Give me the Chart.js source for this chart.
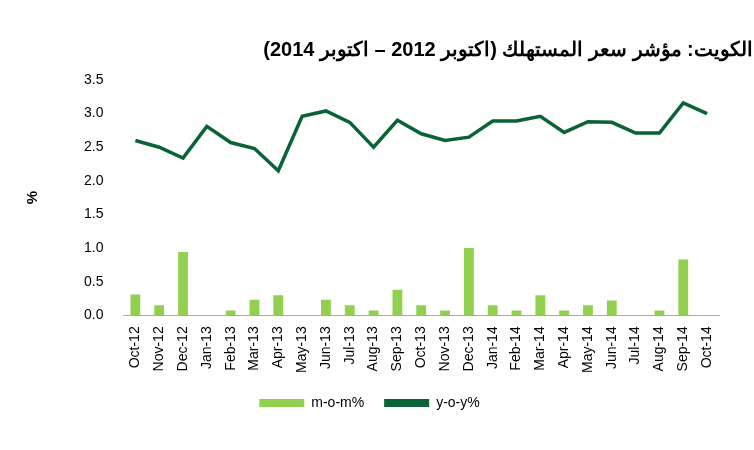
<!DOCTYPE html><html><head><meta charset="utf-8"><script src="https://cdn.jsdelivr.net/npm/chart.js@4"></script>
<style>body{margin:0;background:#fff}#w{width:754px;height:450px}</style></head><body><div id="w"><canvas id="c"></canvas></div>
<script>
const categories=["Oct-12","Nov-12","Dec-12","Jan-13","Feb-13","Mar-13","Apr-13","May-13","Jun-13","Jul-13","Aug-13","Sep-13","Oct-13","Nov-13","Dec-13","Jan-14","Feb-14","Mar-14","Apr-14","May-14","Jun-14","Jul-14","Aug-14","Sep-14","Oct-14"];
const mom=[0.31,0.15,0.94,-0.01,0.07,0.23,0.30,0,0.23,0.15,0.07,0.38,0.15,0.07,1.0,0.15,0.07,0.30,0.07,0.15,0.22,0,0.07,0.83,0];
const yoy=[2.6,2.5,2.34,2.81,2.57,2.48,2.15,2.96,3.04,2.87,2.5,2.9,2.7,2.6,2.65,2.89,2.89,2.96,2.72,2.88,2.87,2.71,2.71,3.16,3.0];
const yTicks=[0,0.5,1,1.5,2,2.5,3,3.5];
const titleText='الكويت: مؤشر سعر المستهلك (اكتوبر 2012 – اكتوبر 2014)';
const F="'Liberation Sans', Arial, sans-serif";
const titlePlugin={id:'tp',afterDraw(ch){const c=ch.ctx;c.save();c.font="bold 20px "+F;c.fillStyle='#000';c.textAlign='center';c.textBaseline='middle';c.fillText(titleText,508,50);c.restore();}};
new Chart(document.getElementById('c'),{plugins:[titlePlugin],data:{labels:categories,datasets:[
{type:'line',label:'y-o-y%',data:yoy,borderColor:'#0a6338',backgroundColor:'#0a6338',borderWidth:3.5,pointRadius:0,tension:0,order:0},
{type:'bar',label:'m-o-m%',data:mom,backgroundColor:'#92d050',categoryPercentage:0.75,barPercentage:0.55,order:1}]},
options:{responsive:true,maintainAspectRatio:false,animation:false,
layout:{padding:{left:20,right:35,top:80,bottom:30}},
plugins:{legend:{position:'bottom',labels:{font:{family:F,size:14},color:'#000',boxWidth:45,boxHeight:8,padding:20,generateLabels(ch){return [
{text:'m-o-m%',fillStyle:'#92d050',strokeStyle:'#92d050',lineWidth:0,datasetIndex:1},
{text:'y-o-y%',fillStyle:'#0a6338',strokeStyle:'#0a6338',lineWidth:0,datasetIndex:0}]}}},tooltip:{enabled:false}},
scales:{x:{grid:{display:false},border:{color:'#aaa'},ticks:{font:{family:F,size:14},color:'#000',maxRotation:90,minRotation:90}},
y:{min:0,max:3.5,afterBuildTicks(a){a.ticks=yTicks.map(v=>({value:v}))},grid:{display:false},border:{display:false},
title:{display:true,text:'%',font:{family:F,size:15,weight:'bold'},color:'#000',padding:{bottom:30}},
ticks:{font:{family:F,size:14},color:'#000',padding:12,callback:v=>v.toFixed(1)}}}}});
</script></body></html>
